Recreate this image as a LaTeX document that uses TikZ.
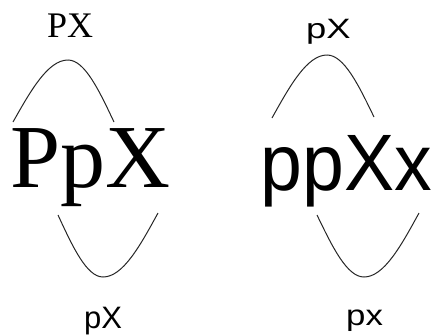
\documentclass[tikz,border=0pt]{standalone}
\usepackage{fontspec}
\newfontfamily\serifface{Liberation Serif}
\newfontfamily\sansface{Liberation Sans}
\usepackage{tikz}

\begin{document}
\begin{tikzpicture}[
    x=1pt, y=-1pt,
    hump/.style={line width=1pt, black!85},
    lbl/.style={inner sep=0pt, anchor=base west}
  ]
    \useasboundingbox (0,0) rectangle (434,335);
    % left group
    \node[lbl, font=\serifface\fontsize{36}{36}\selectfont] (topL) at (47,37) {PX};
    \node[lbl, font=\serifface\fontsize{90}{90}\selectfont] (wordL) at (10.5,187) {PpX};
    \node[lbl, font=\sansface\fontsize{31}{31}\selectfont] (botL) at (84,328) {pX};
    \draw[hump] (13,122) sin (68,60) cos (114,122);
    \draw[hump] (58,215) sin (103,277) cos (158,213);
    % right group
    \node[lbl, font=\sansface\fontsize{28}{28}\selectfont] (topR) at (306,38) {\scalebox{1.3}[1]{pX}};
    \node[lbl, font=\sansface\fontsize{80}{80}\selectfont] (wordR) at (260.5,190) {\scalebox{0.94}[1]{ppXx}};
    \node[lbl, font=\sansface\fontsize{29}{29}\selectfont] (botR) at (346,325) {\scalebox{1.2}[1]{px}};
    \draw[hump] (272,118) sin (327,55) cos (374,117);
    \draw[hump] (317,215) sin (364,277) cos (419,213);
\end{tikzpicture}
\end{document}
